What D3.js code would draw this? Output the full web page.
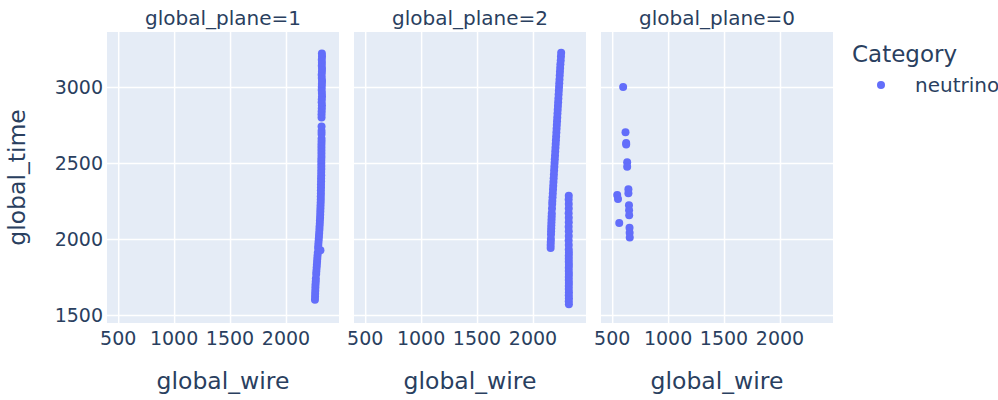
<!DOCTYPE html>
<html>
<meta charset="utf-8">
<head>
  <script src="https://cdn.jsdelivr.net/npm/d3@7"></script>
  <style>
    body { margin: 0; background: #fff; }
    text { font-family: "DejaVu Sans", Verdana, sans-serif; fill: #2a3f5f; }
  </style>
</head>
<body>
<script>
    // facet order as drawn
    var planes = ['1', '2', '0'];

    // global_plane = 1
    var wire1 = [2259,2260,2261,2262,2263,2264,2266,2267,2270,2272,2274,2276,2278,2280,2282,2284,2308,2287,2289,2291,
                 2293,2295,2297,2299,2300,2302,2303,2305,2306,2307,2308,2309,2310,2311,2311,2312,2312,2313,2313,2314,
                 2314,2315,2315,2316,2316,2316,2316,2317,2317,2317,2317,2317,2318,2318,2318,2318,2318,2318,2318,2319,
                 2320,2321,2319,2320,2322,2321,2319,2320,2321,2322,2320,2319,2321,2322,2320,2321,2320,2322,2321];
    var time1 = [1600,1620,1640,1660,1680,1700,1720,1740,1770,1790,1810,1830,1850,1870,1890,1910,1925,1940,1960,1980,
                 2000,2020,2040,2060,2080,2100,2120,2140,2160,2180,2200,2220,2240,2260,2280,2300,2320,2340,2360,2380,
                 2400,2420,2440,2460,2480,2500,2520,2540,2560,2580,2600,2620,2640,2660,2690,2710,2740,2800,2820,2840,
                 2860,2880,2900,2920,2940,2960,2980,3000,3020,3040,3060,3080,3100,3120,3140,3160,3180,3200,3220];

    // global_plane = 2 (two tracks)
    var wire2 = [2158,2158,2159,2160,2161,2162,2163,2164,2165,2166,2167,2168,2170,2172,2173,2175,2177,2179,2181,2183,
                 2185,2187,2189,2191,2193,2195,2197,2199,2201,2203,2205,2207,2209,2211,2213,2215,2217,2219,2221,2223,
                 2225,2227,2229,2231,2233,2235,2237,2239,2241,2243,2245,2248,2250,2252,
                 2321,2320,2321,2320,2321,2320,2320,2321,2320,2320,2321,2320,2320,2321,2320,2320,2320,2321,2320,2320,
                 2319,2320,2320,2319,2320,2320,2319,2320,2320,2319,2320];
    var time2 = [1940,1960,1980,2000,2030,2050,2070,2090,2110,2130,2150,2170,2200,2230,2250,2275,2300,2325,2350,2375,
                 2400,2425,2450,2475,2500,2525,2550,2575,2600,2625,2650,2675,2700,2725,2750,2775,2800,2825,2850,2875,
                 2900,2925,2950,2975,3000,3025,3050,3075,3100,3125,3150,3175,3200,3226,
                 1570,1590,1610,1630,1650,1670,1690,1710,1730,1750,1770,1790,1810,1830,1850,1870,1890,1910,1930,1960,
                 1990,2020,2050,2080,2110,2140,2170,2200,2230,2260,2285];

    // global_plane = 0
    var wire0 = [598,619,625,625,634,634,645,645,545,552,650,651,652,563,655,656,657];
    var time0 = [3000,2702,2631,2622,2505,2476,2327,2301,2289,2263,2222,2189,2156,2105,2074,2041,2009];

    var wires = {'1': wire1, '2': wire2, '0': wire0};
    var times = {'1': time1, '2': time2, '0': time0};

    var xTicks = [500, 1000, 1500, 2000];
    var yTicks = [1500, 2000, 2500, 3000];
    var category = 'neutrino';
    var color = '#636efa';

    var W = 998, H = 400;
    var plotTop = 32, plotBottom = 323;
    var pw = 232, gap = 15, left0 = 107;

    var svg = d3.select('body').append('svg').attr('width', W).attr('height', H);

    var y = d3.scaleLinear().domain([1447, 3362]).range([plotBottom, plotTop]);

    function panel(i, plane) {
        var x0 = left0 + i * (pw + gap);
        var x = d3.scaleLinear().domain([400, 2474]).range([x0, x0 + pw]);
        var g = svg.append('g');

        g.append('rect').attr('x', x0).attr('y', plotTop).attr('width', pw).attr('height', plotBottom - plotTop)
            .attr('fill', '#e5ecf6');

        // grid
        g.append('g').attr('transform', 'translate(0,' + plotBottom + ')')
            .call(d3.axisBottom(x).tickValues(xTicks).tickSize(-(plotBottom - plotTop)).tickFormat(''))
            .call(s => s.select('.domain').remove())
            .call(s => s.selectAll('line').attr('stroke', '#fff').attr('stroke-width', 1.5));
        g.append('g').attr('transform', 'translate(' + x0 + ',0)')
            .call(d3.axisLeft(y).tickValues(yTicks).tickSize(-pw).tickFormat(''))
            .call(s => s.select('.domain').remove())
            .call(s => s.selectAll('line').attr('stroke', '#fff').attr('stroke-width', 1.5));

        // tick labels
        g.selectAll('text.xt').data(xTicks).join('text').attr('class', 'xt')
            .attr('x', d => x(d)).attr('y', 345).attr('text-anchor', 'middle')
            .style('font-size', '19px').text(d => d);
        if (i == 0) {
            g.selectAll('text.yt').data(yTicks).join('text').attr('class', 'yt')
                .attr('x', 103).attr('y', d => y(d)).attr('dy', '0.35em').attr('text-anchor', 'end')
                .style('font-size', '19px').text(d => d);
            g.append('text').attr('transform', 'translate(25,' + ((plotTop + plotBottom) / 2) + ') rotate(-90)')
                .attr('text-anchor', 'middle').style('font-size', '23.5px').text('global_time');
        }

        g.append('text').attr('x', x0 + pw / 2).attr('y', 389).attr('text-anchor', 'middle')
            .style('font-size', '23.5px').text('global_wire');
        g.append('text').attr('x', x0 + pw / 2).attr('y', 25).attr('text-anchor', 'middle')
            .style('font-size', '20px').text('global_plane=' + plane);

        var pts = wires[plane].map((w, k) => ({w: w, t: times[plane][k]}));
        g.selectAll('circle').data(pts).join('circle')
            .attr('cx', d => x(d.w)).attr('cy', d => y(d.t)).attr('r', 4)
            .attr('fill', color);
    }

    planes.forEach((p, i) => panel(i, p));

    // legend
    var lg = svg.append('g');
    lg.append('text').attr('x', 852).attr('y', 62).style('font-size', '23px').text('Category');
    lg.append('circle').attr('cx', 881).attr('cy', 85).attr('r', 4).attr('fill', color);
    lg.append('text').attr('x', 915).attr('y', 85).attr('dy', '0.35em').style('font-size', '20px').text(category);
</script>
</body>
</html>
